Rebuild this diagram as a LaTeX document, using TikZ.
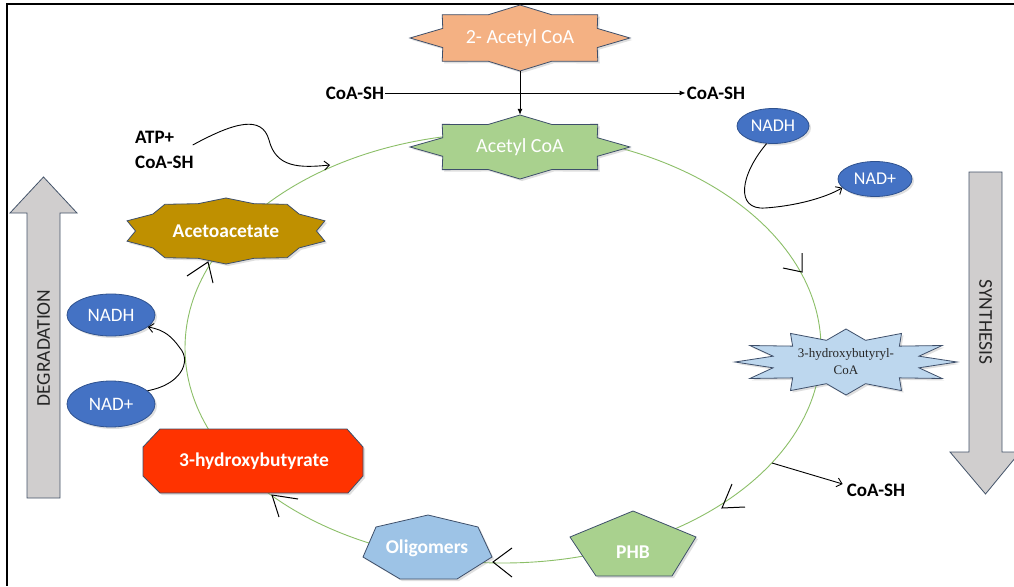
\documentclass[tikz,border=0pt]{standalone}
\usepackage{fontspec}
\setmainfont{Carlito}
\newfontfamily\seriffam{Liberation Serif}
\usetikzlibrary{arrows.meta,shadows,shapes.geometric,calc}
\definecolor{peach}{HTML}{F4B183}
\definecolor{lgreen}{HTML}{A9D18E}
\definecolor{goldfill}{HTML}{BF9000}
\definecolor{lblue}{HTML}{BDD7EE}
\definecolor{oligblue}{HTML}{9DC3E6}
\definecolor{hbred}{HTML}{FF3300}
\definecolor{nadblue}{HTML}{4472C4}
\definecolor{naddark}{HTML}{2F528F}
\definecolor{sborder}{HTML}{3E4F6A}
\definecolor{arrgray}{HTML}{D0CECE}
\definecolor{arrborder}{HTML}{44546A}
\definecolor{cycgreen}{HTML}{8CBF68}
\definecolor{darktext}{HTML}{262626}
\newcommand{\mystarpath}[7]{%
  \pgfmathtruncatemacro\starlast{2*#6-1}%
  \path[#1] plot[samples at={0,...,\starlast}, variable=\k]
   ({#2+#4*ifthenelse(mod(\k,2)==0,1,#7)*cos(90+\k*180/#6)},
    {#3+#5*ifthenelse(mod(\k,2)==0,1,#7)*sin(90+\k*180/#6)}) -- cycle;}
\tikzset{
  shapeline/.style={draw=sborder, line width=0.8pt,
    drop shadow={opacity=0.25, shadow xshift=2pt, shadow yshift=-2pt}},
  wlabel/.style={text=white, inner sep=0pt, font=\fontsize{20}{22}\selectfont},
  wblabel/.style={text=white, inner sep=0pt, font=\bfseries\fontsize{19.5}{22}\selectfont},
  blabel/.style={text=black, inner sep=1pt, align=left, font=\bfseries\fontsize{19}{25}\selectfont},
  nad/.style={ellipse, fill=nadblue, draw=naddark, line width=0.8pt, text=white,
    inner sep=0pt, font=\fontsize{19}{21}\selectfont,
    drop shadow={opacity=0.25, shadow xshift=2pt, shadow yshift=-2pt}},
  connector/.style={draw=black, line width=0.9pt},
  barb/.style={-{Straight Barb[length=5pt,width=9pt]}},
  solidtip/.style={-{Latex[length=6pt,width=5pt]}},
  cyc/.style={draw=cycgreen, line width=0.9pt},
  tickmark/.style={draw=black, line width=1pt},
  blockarrow/.style={fill=arrgray, draw=arrborder, line width=0.8pt},
  sidetext/.style={text=darktext, font=\fontsize{19.5}{21}\selectfont}
}
\begin{document}
\begin{tikzpicture}[x=1pt,y=-1pt]
\useasboundingbox (0,0) rectangle (1014,586);
\fill[white] (0,0) rectangle (1014,586);
% frame
\draw[line width=2pt] (6,4) -- (1014,4);
\draw[line width=2pt] (7,4) -- (7,586);
% cycle
\draw[cyc] (503,348) ellipse [x radius=318pt, y radius=215pt];
% block arrows
\draw[blockarrow] (27,498) -- (27,213) -- (10,213) -- (43.5,177) -- (77,213) -- (60,213) -- (60,498) -- cycle;
\node[sidetext, rotate=90] (deg) at (43.5,348) {DEGRADATION};
\draw[blockarrow] (969,172) -- (1002,172) -- (1002,452) -- (1020,452) -- (985.5,494) -- (950,452) -- (969,452) -- cycle;
\node[sidetext, rotate=-90] (syn) at (985.5,322) {SYNTHESIS};
% ticks on the cycle
\draw[tickmark] (802,253) -- (802,272) -- (783,268);
\draw[tickmark] (732,484) -- (722,508) -- (745,507);
\draw[tickmark] (512,548) -- (493,562) -- (512,577);
\draw[tickmark] (298,499) -- (272,495) -- (279,517);
\draw[tickmark] (187,276) -- (208,262) -- (213,283);
% stars
\mystarpath{shapeline, fill=peach}{520}{38}{110}{33}{8}{0.76}
\node[wlabel, minimum width=220pt, minimum height=66pt] (acoa2) at (520,38) {2- Acetyl CoA};
\mystarpath{shapeline, fill=lgreen}{520}{147}{110}{32}{8}{0.76}
\node[wlabel, minimum width=220pt, minimum height=64pt] (acoa) at (520,147) {Acetyl CoA};
\mystarpath{shapeline, fill=goldfill}{226}{231}{104}{33}{10}{0.87}
\node[wblabel] (acac) at (226,231) {Acetoacetate};
\mystarpath{shapeline, fill=lblue}{846}{362}{111}{33}{12}{0.68}
\node[text=darktext, align=center, inner sep=0pt, font=\seriffam\fontsize{13}{17}\selectfont] (hbcoa) at (846,362) {3-hydroxybutyryl-\\CoA};
% 3-hydroxybutyrate octagon
\path[shapeline, fill=hbred] (160,429) -- (347,429) -- (363,447) -- (363,476) -- (348,493) -- (160,493) -- (143,476) -- (143,447) -- cycle;
\node[wblabel] (hb) at (254,461) {3-hydroxybutyrate};
% Oligomers heptagon
\path[shapeline, fill=oligblue] (376,527) -- (428,515) -- (478,527) -- (492,557) -- (457,579) -- (400,579) -- (363,557) -- cycle;
\node[wblabel] (olig) at (427,548) {Oligomers};
% PHB pentagon
\path[shapeline, fill=lgreen] (633,511) -- (696,537) -- (672,576) -- (596,576) -- (570,537) -- cycle;
\node[wblabel] (phb) at (633,552) {PHB};
% NAD ellipses
\node[nad, minimum width=72pt, minimum height=35pt, font=\fontsize{18}{20}\selectfont] (nadh1) at (773,126) {NADH};
\node[nad, minimum width=74pt, minimum height=35pt, font=\fontsize{18}{20}\selectfont] (nadp1) at (875,179) {NAD+};
\node[nad, minimum width=88pt, minimum height=42pt] (nadh2) at (111,315) {NADH};
\node[nad, minimum width=88pt, minimum height=46pt] (nadp2) at (111,404) {NAD+};
% labels
\node[blabel] (coasl) at (355,93) {CoA-SH};
\node[blabel] (coasr) at (716,93) {CoA-SH};
\node[blabel, anchor=west] (atp) at (134,150) {ATP+\\CoA-SH};
\node[blabel] (coas3) at (876,490) {CoA-SH};
% connectors
\draw[connector, solidtip] (acoa2.south) -- (acoa.north);
\draw[connector, solidtip] (coasl.east) -- (coasr.west);
\coordinate (atpend) at (330,165);
\draw[connector, barb] ($(atp.east)+(-2,-5)$) .. controls (235,122) and (262,115) .. (269,140)
   .. controls (276,168) and (300,168) .. (atpend);
\draw[connector, barb] (nadh1.250) .. controls (740,175) and (735,210) .. (765,208)
   .. controls (795,206) and (825,198) .. (nadp1.195);
\draw[connector, barb] (nadp2.20) .. controls (180,385) and (192,362) .. (180,348)
   .. controls (172,337) and (165,330) .. (nadh2.-18);
\coordinate (cyc3) at (772,463);
\draw[connector, barb] (cyc3) -- ($(coas3.west)+(-3,-6)$);
\end{tikzpicture}
\end{document}
